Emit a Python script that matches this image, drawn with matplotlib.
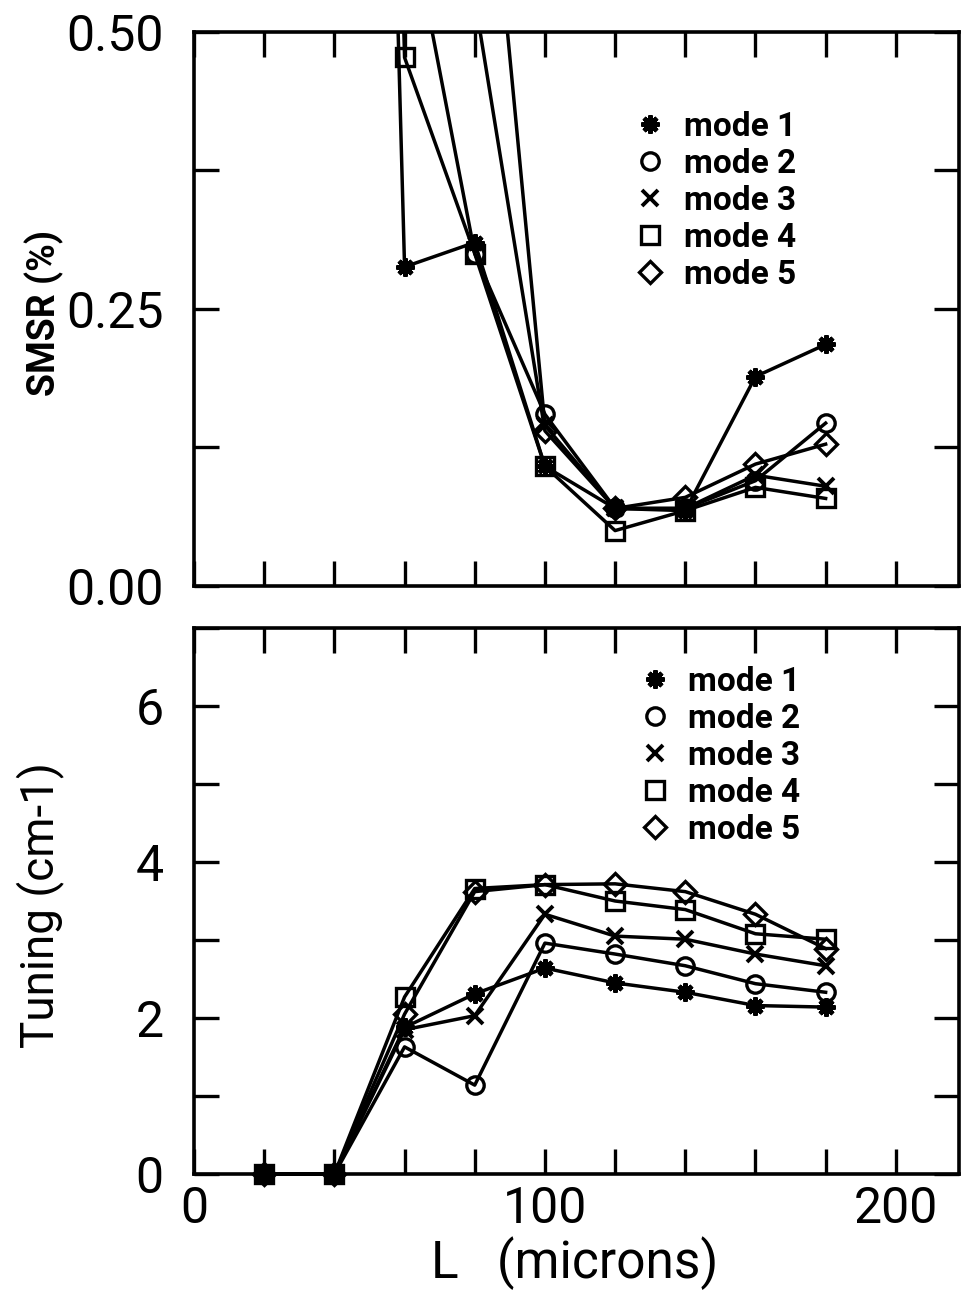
import numpy as np
import matplotlib
matplotlib.use("Agg")
import matplotlib.pyplot as plt
from matplotlib.lines import Line2D

plt.rcParams['font.family'] = ['Roboto', 'DejaVu Sans']

# datos
L = [20, 40, 60, 80, 100, 120, 140, 160, 180]
labels = ['mode 1', 'mode 2', 'mode 3', 'mode 4', 'mode 5']

# SMSR (%) -- valores fuera de escala en L pequeño
smsr_m1 = [3.0, 2.6, 0.288, 0.310, 0.108, 0.070, 0.068, 0.189, 0.218]
smsr_m2 = [3.0, 2.8, 0.630, 0.300, 0.155, 0.070, 0.070, 0.095, 0.147]
smsr_m3 = [3.0, 2.8, 1.200, 0.810, 0.145, 0.070, 0.070, 0.100, 0.090]
smsr_m4 = [3.0, 2.8, 0.477, 0.300, 0.108, 0.050, 0.068, 0.089, 0.079]
smsr_m5 = [3.0, 2.8, 1.000, 0.530, 0.140, 0.070, 0.080, 0.110, 0.128]

# Tuning (cm-1)
tun_m1 = [0, 0, 1.88, 2.31, 2.64, 2.45, 2.33, 2.16, 2.14]
tun_m2 = [0, 0, 1.63, 1.14, 2.96, 2.82, 2.67, 2.44, 2.33]
tun_m3 = [0, 0, 1.85, 2.03, 3.33, 3.05, 3.01, 2.82, 2.67]
tun_m4 = [0, 0, 2.27, 3.66, 3.71, 3.50, 3.39, 3.08, 3.01]
tun_m5 = [0, 0, 2.05, 3.62, 3.71, 3.72, 3.62, 3.33, 2.89]

xticks = [0, 20, 40, 60, 80, 100, 120, 140, 160, 180, 200]
xticklabels = ['0', '', '', '', '', '100', '', '', '', '', '200']
smsr_ticks = [0, 0.125, 0.25, 0.375, 0.5]
smsr_ticklabels = ['0.00', '', '0.25', '', '0.50']
tun_ticks = [0, 1, 2, 3, 4, 5, 6, 7]
tun_ticklabels = ['0', '', '2', '', '4', '', '6', '']

# estilos de marcador
styles = [
    dict(marker=(8, 2, 0), ms=13, mew=3.2, mfc='k'),
    dict(marker='o', ms=12.5, mew=2.4, mfc='none'),
    dict(marker='x', ms=11, mew=2.8, mfc='none'),
    dict(marker='s', ms=12.5, mew=2.4, mfc='none'),
    dict(marker='D', ms=11, mew=2.4, mfc='none'),
]

fig = plt.figure(figsize=(9.61, 12.95), dpi=100)
ax1 = fig.add_axes([0.2019, 0.5475, 0.7960, 0.4278])
ax2 = fig.add_axes([0.2019, 0.0934, 0.7960, 0.4217])


def estilo_ejes(ax, yticks, yticklabels):
    ax.set_xlim(0, 218)
    ax.set_xticks(xticks)
    ax.set_yticks(yticks)
    ax.set_yticklabels(yticklabels, fontsize=36)
    ax.tick_params(direction='in', length=18, width=2.4, top=True, right=True)
    ax.tick_params(axis='y', pad=22)
    ax.tick_params(axis='x', pad=8)
    for s in ax.spines.values():
        s.set_linewidth(2.6)


# panel superior: SMSR
for y, st in zip([smsr_m1, smsr_m2, smsr_m3, smsr_m4, smsr_m5], styles):
    ax1.plot(L, y, color='k', lw=2.5, mec='k', **st)
ax1.set_ylim(0, 0.5)
estilo_ejes(ax1, smsr_ticks, smsr_ticklabels)
ax1.set_xticklabels([])
ax1.set_ylabel('SMSR (%)', fontsize=27, fontweight='bold')
ax1.yaxis.set_label_coords(-0.17, 0.493)

# panel inferior: Tuning
for y, st in zip([tun_m1, tun_m2, tun_m3, tun_m4, tun_m5], styles):
    ax2.plot(L, y, color='k', lw=2.5, mec='k', clip_on=False, **st)
ax2.set_ylim(0, 7)
estilo_ejes(ax2, tun_ticks, tun_ticklabels)
ax2.set_xticklabels(xticklabels, fontsize=36)
ax2.set_ylabel('Tuning (cm-1)', fontsize=33)
ax2.yaxis.set_label_coords(-0.17, 0.493)
ax2.set_xlabel('L   (microns)', fontsize=37)
ax2.xaxis.set_label_coords(0.497, -0.114)

# leyendas solo con marcador
handles = [Line2D([], [], color='k', ls='none', mec='k', **st) for st in styles]
leg_kw = dict(loc='upper left', frameon=False, borderpad=0, handlelength=1.0,
              handletextpad=0.5, labelspacing=0.15, prop=dict(size=24, weight='bold'))
ax1.legend(handles, labels, bbox_to_anchor=(0.553, 0.888), **leg_kw)
ax2.legend(handles, labels, bbox_to_anchor=(0.559, 0.961), **leg_kw)

fig.savefig('out.png', dpi=100)
